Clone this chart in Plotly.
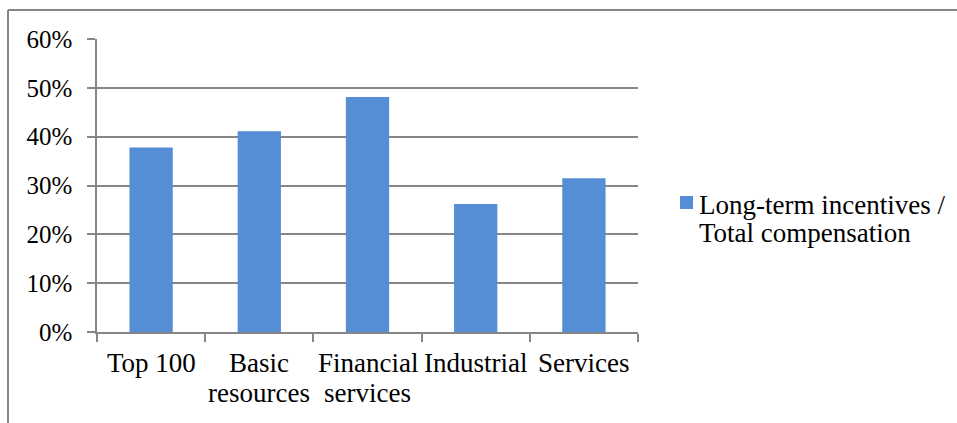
import plotly.graph_objects as go

categories = ["Top 100", "Basic resources", "Financial services", "Industrial", "Services"]
category_label_lines = [["Top 100"], ["Basic", "resources"], ["Financial", "services"],
                        ["Industrial"], ["Services"]]
ltip_share = [37.8, 41.1, 48.1, 26.2, 31.5]
series_lines = ["Long-term incentives /", "Total compensation"]
y_ticks = [0, 10, 20, 30, 40, 50, 60]
y_tick_labels = [f"{v}%" for v in y_ticks]

BAR = "#558ED5"
GRID = "#868686"
FONT = "'Liberation Serif', 'Times New Roman', Times, serif"

W, H = 957, 423
L, R, T, B = 97, 638, 39, 332


def px_x(px):
    return (px - L) / (R - L)


def px_y(py):
    return (B - py) / (B - T)


fig = go.Figure()
fig.add_trace(go.Bar(
    x=categories, y=ltip_share, name=" ".join(series_lines),
    marker=dict(color=BAR, line=dict(width=0)),
    showlegend=False,
))

# outer frame (left and top edges)
fig.add_shape(type="line", xref="paper", yref="paper",
              x0=px_x(8), x1=px_x(8), y0=px_y(10), y1=px_y(430),
              line=dict(color=GRID, width=2))
fig.add_shape(type="line", xref="paper", yref="paper",
              x0=px_x(8), x1=px_x(960), y0=px_y(10), y1=px_y(10),
              line=dict(color=GRID, width=2))

# category labels, one annotation per text line
line_y = [363, 393]
for cat, lines in zip(categories, category_label_lines):
    for i, txt in enumerate(lines):
        fig.add_annotation(x=cat, xref="x", y=px_y(line_y[i]), yref="paper",
                           text=txt, showarrow=False, xanchor="center",
                           yanchor="middle", font=dict(family=FONT, size=27, color="black"))

# legend: swatch plus two text lines
fig.add_shape(type="rect", xref="paper", yref="paper",
              x0=px_x(680), x1=px_x(693), y0=px_y(196), y1=px_y(209),
              fillcolor=BAR, line=dict(width=0))
legend_y = [205, 233]
for i, txt in enumerate(series_lines):
    fig.add_annotation(x=px_x(697), xref="paper", y=px_y(legend_y[i]), yref="paper",
                       text=txt, showarrow=False, xanchor="left", yanchor="middle",
                       font=dict(family=FONT, size=27, color="black"))

fig.update_layout(
    width=W, height=H,
    margin=dict(l=L, r=W - R, t=T, b=H - B, pad=0),
    paper_bgcolor="white", plot_bgcolor="white",
    font=dict(family=FONT, size=25, color="black"),
    bargap=0.6,
    xaxis=dict(showline=True, linecolor=GRID, linewidth=1.5,
               ticks="outside", tickson="boundaries", ticklen=8,
               tickcolor=GRID, tickwidth=1.5, showgrid=False,
               showticklabels=False),
    yaxis=dict(range=[0, 60], tickvals=y_ticks, ticktext=y_tick_labels,
               showline=True, linecolor=GRID, linewidth=1.5,
               ticks="outside", ticklen=8, tickcolor=GRID, tickwidth=1.5,
               showgrid=True, gridcolor=GRID, gridwidth=1.5,
               zeroline=False, ticklabelstandoff=10,
               tickfont=dict(size=25, family=FONT)),
)

fig.write_html("out.html")
